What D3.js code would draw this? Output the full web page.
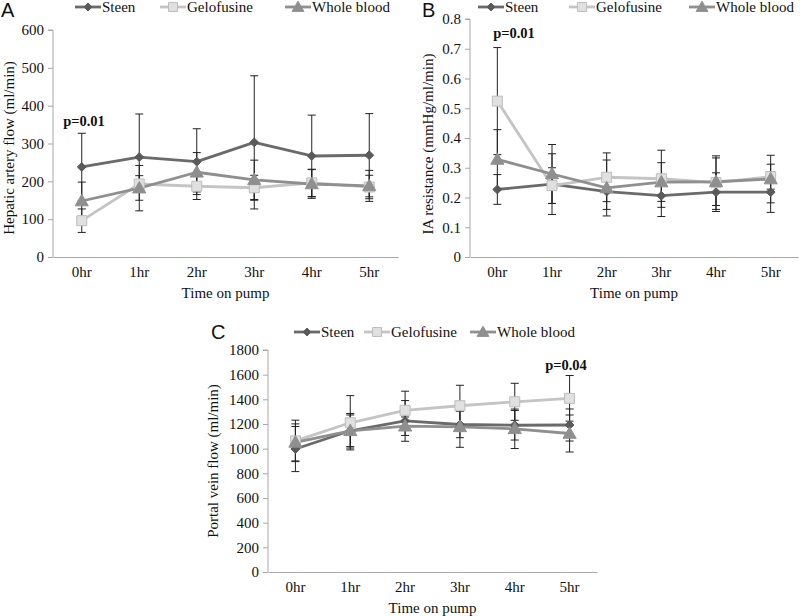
<!DOCTYPE html>
<html><head><meta charset="utf-8">
<script src="https://cdn.jsdelivr.net/npm/d3@7/dist/d3.min.js"></script>
<style>body{margin:0;background:#fff}svg{display:block}</style>
</head><body>
<svg id="c" width="800" height="616"></svg>
<script>
const categories = ["0hr","1hr","2hr","3hr","4hr","5hr"];
const seriesNames = ["Steen","Gelofusine","Whole blood"];

// Panel A: Hepatic artery flow (ml/min)
const hafSteen = [238, 264, 252, 303, 267, 269];
const hafSteenErr = [89, 114, 87, 176, 108, 110];
const hafGelo = [96, 193, 187, 183, 196, 185];
const hafGeloErr = [31, 22, 35, 33, 36, 31];
const hafWhole = [148, 182, 224, 204, 193, 188];
const hafWholeErr = [50, 60, 52, 52, 38, 41];
const hafTicks = [0,100,200,300,400,500,600];

// Panel B: IA resistance (mmHg/ml/min)
const iarSteen = [0.227, 0.245, 0.220, 0.206, 0.218, 0.218];
const iarSteenErr = [0.05, 0.102, 0.06, 0.07, 0.065, 0.068];
const iarGelo = [0.524, 0.240, 0.268, 0.263, 0.250, 0.270];
const iarGeloErr = [0.18, 0.06, 0.082, 0.096, 0.09, 0.042];
const iarWhole = [0.328, 0.279, 0.232, 0.252, 0.253, 0.262];
const iarWholeErr = [0.10, 0.099, 0.094, 0.065, 0.08, 0.08];
const iarTicks = [0,0.1,0.2,0.3,0.4,0.5,0.6,0.7,0.8];

// Panel C: Portal vein flow (ml/min)
const pvfSteen = [997, 1145, 1225, 1196, 1190, 1192];
const pvfSteenErr = [183, 128, 165, 107, 120, 130];
const pvfGelo = [1063, 1210, 1311, 1348, 1380, 1408];
const pvfGeloErr = [168, 220, 155, 166, 150, 185];
const pvfWhole = [1051, 1145, 1182, 1177, 1161, 1123];
const pvfWholeErr = [150, 140, 75, 166, 160, 150];
const pvfTicks = [0,200,400,600,800,1000,1200,1400,1600,1800];

const styles = [
  {line:"#6a6a6a", fill:"#5a5a5a", stroke:"#5a5a5a", sym:d3.symbolDiamond2, size:50},
  {line:"#c4c4c4", fill:"#e0e0e0", stroke:"#bdbdbd", sym:d3.symbolSquare, size:100},
  {line:"#8f8f8f", fill:"#8f8f8f", stroke:"#8f8f8f", sym:d3.symbolTriangle, size:75}
];

const svg = d3.select("#c");
const SERIF = "'Liberation Serif','Times New Roman',serif";
const SANS = "'Liberation Sans',Arial,sans-serif";

function panel(cfg){
  const g = svg.append("g");
  const x = d3.scaleBand().domain(categories).range(cfg.xr).padding(0);
  const y = d3.scaleLinear().domain(cfg.yd).range(cfg.yr);

  // axes
  const ya = d3.axisLeft(y).tickValues(cfg.ticks).tickSize(5).tickPadding(4)
    .tickFormat(cfg.fmt);
  const yg = g.append("g").attr("transform",`translate(${cfg.xr[0]},0)`).call(ya);
  yg.select(".domain").attr("stroke","#a8a8a8").attr("d",`M-5,${cfg.yr[1]}H0V${cfg.yr[0]}`);
  yg.selectAll(".tick line").attr("stroke","#a8a8a8");
  yg.selectAll("text").attr("font-family",SERIF).attr("font-size",15).attr("fill","#111");

  const xa = d3.axisBottom(x).tickSize(0).tickPadding(9);
  const xg = g.append("g").attr("transform",`translate(0,${cfg.yr[0]})`).call(xa);
  xg.select(".domain").attr("stroke","#a8a8a8");
  xg.selectAll("text").attr("font-family",SERIF).attr("font-size",15).attr("fill","#111");

  // titles
  g.append("text").attr("x",(cfg.xr[0]+cfg.xr[1])/2).attr("y",cfg.yr[0]+41)
    .attr("text-anchor","middle").attr("font-family",SERIF).attr("font-size",15)
    .attr("fill","#111").text("Time on pump");
  g.append("text").attr("transform",`translate(${cfg.ytx},${cfg.yty}) rotate(-90)`)
    .attr("text-anchor","middle").attr("font-family",SERIF).attr("font-size",15)
    .attr("fill","#111").text(cfg.ytitle);
  g.append("text").attr("x",cfg.letter[0]).attr("y",cfg.letter[1])
    .attr("font-family",SANS).attr("font-size",20).attr("fill","#111").text(cfg.name);
  g.append("text").attr("x",cfg.p[0]).attr("y",cfg.p[1]).attr("text-anchor","middle")
    .attr("font-family",SERIF).attr("font-size",14.5).attr("font-weight","bold")
    .attr("fill","#111").text(cfg.ptext);

  const cx = c => x(c) + x.bandwidth()/2;
  const line = d3.line().x((d,i)=>cx(categories[i])).y(d=>y(d));

  // lines
  cfg.series.forEach((s,k)=>{
    g.append("path").attr("d",line(s.v)).attr("fill","none")
      .attr("stroke",styles[k].line).attr("stroke-width",2.8).attr("stroke-linejoin","round");
  });
  // error bars
  cfg.series.forEach((s,k)=>{
    s.v.forEach((v,i)=>{
      const px = cx(categories[i]), lo = y(v - s.e[i]), hi = y(v + s.e[i]);
      g.append("line").attr("x1",px).attr("x2",px).attr("y1",lo).attr("y2",hi)
        .attr("stroke","#222").attr("stroke-width",1);
      [lo,hi].forEach(yy=>g.append("line").attr("x1",px-4).attr("x2",px+4)
        .attr("y1",yy).attr("y2",yy).attr("stroke","#222").attr("stroke-width",1));
    });
  });
  // markers
  cfg.series.forEach((s,k)=>{
    const st = styles[k];
    g.selectAll(null).data(s.v).enter().append("path")
      .attr("transform",(d,i)=>`translate(${cx(categories[i])},${y(d)+(k===2?1:0)})`)
      .attr("d",d3.symbol().type(st.sym).size(st.size))
      .attr("fill",st.fill).attr("stroke",st.stroke).attr("stroke-width",1);
  });

  // legend
  seriesNames.forEach((n,k)=>{
    const st = styles[k], lx = cfg.legX[k], ly = cfg.legY;
    g.append("line").attr("x1",lx).attr("x2",lx+26).attr("y1",ly).attr("y2",ly)
      .attr("stroke",st.line).attr("stroke-width",2.8);
    g.append("path").attr("transform",`translate(${lx+13},${ly+(k===2?1:0)})`)
      .attr("d",d3.symbol().type(st.sym).size(st.size*0.8))
      .attr("fill",st.fill).attr("stroke",st.stroke).attr("stroke-width",1);
    g.append("text").attr("x",lx+27).attr("y",ly+5).attr("font-family",SERIF)
      .attr("font-size",15).attr("fill","#111").text(n);
  });
}

panel({name:"A", xr:[53,398], yr:[257,30], yd:[0,600], ticks:hafTicks,
  fmt:d3.format("d"), ytitle:"Hepatic artery flow (ml/min)", ytx:14, yty:148,
  letter:[1,17], p:[84,126], ptext:"p=0.01", legY:7, legX:[75,160,285],
  series:[{v:hafSteen,e:hafSteenErr},{v:hafGelo,e:hafGeloErr},{v:hafWhole,e:hafWholeErr}]});

panel({name:"B", xr:[470,798], yr:[257,19], yd:[0,0.8], ticks:iarTicks,
  fmt:d=>d===0?"0":d3.format(".1f")(d), ytitle:"IA resistance (mmHg/ml/min)", ytx:433, yty:144,
  letter:[422,17], p:[514,38], ptext:"p=0.01", legY:7, legX:[478,569,689],
  series:[{v:iarSteen,e:iarSteenErr},{v:iarGelo,e:iarGeloErr},{v:iarWhole,e:iarWholeErr}]});

panel({name:"C", xr:[268,597], yr:[572,350], yd:[0,1800], ticks:pvfTicks,
  fmt:d3.format("d"), ytitle:"Portal vein flow (ml/min)", ytx:218, yty:461,
  letter:[211,339], p:[566,370], ptext:"p=0.04", legY:332, legX:[294,364,470],
  series:[{v:pvfSteen,e:pvfSteenErr},{v:pvfGelo,e:pvfGeloErr},{v:pvfWhole,e:pvfWholeErr}]});
</script>
</body></html>
